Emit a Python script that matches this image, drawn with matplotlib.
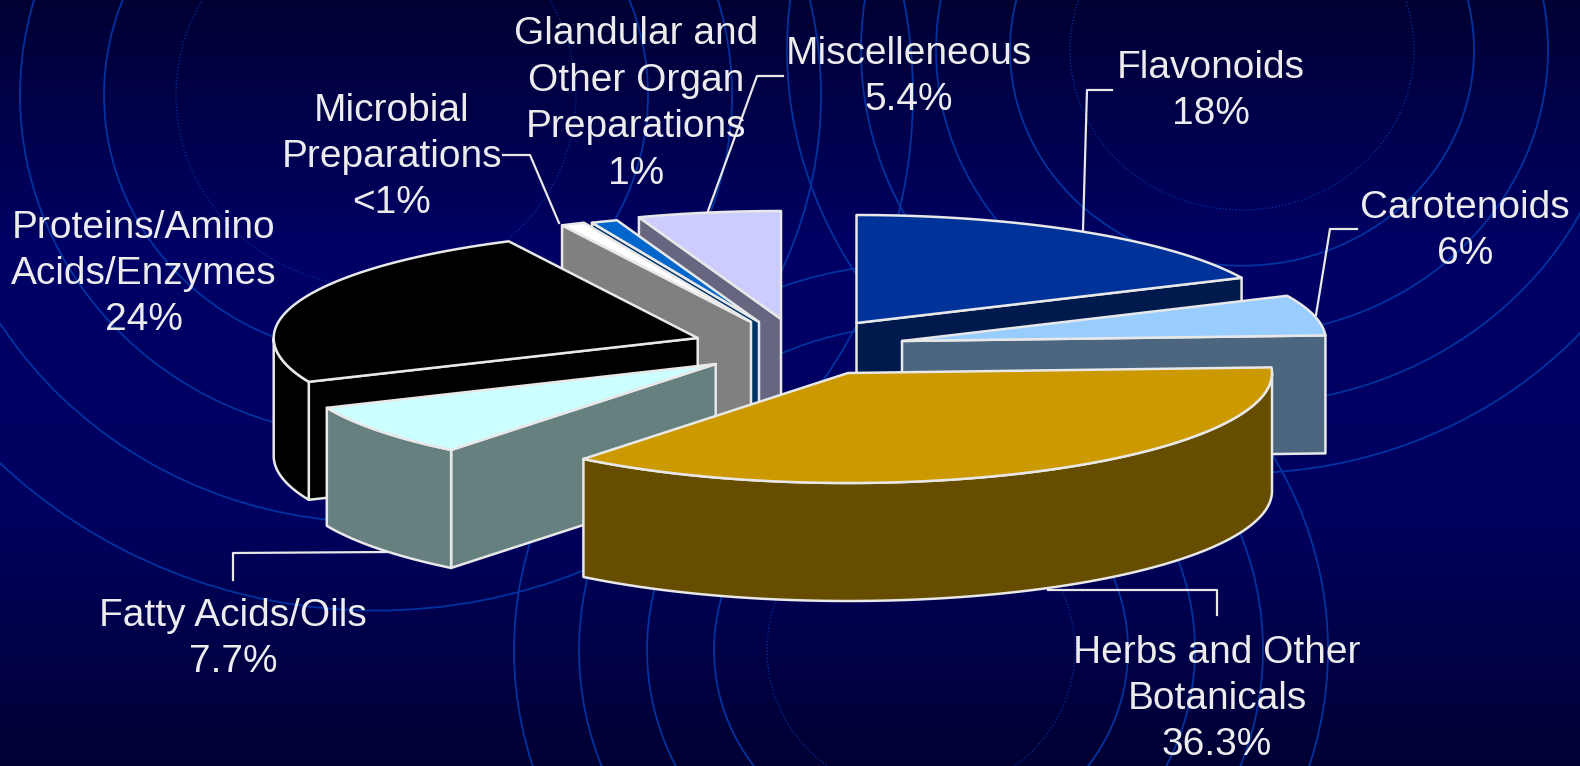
import numpy as np
import matplotlib.pyplot as plt
from matplotlib.colors import LinearSegmentedColormap
from matplotlib.patches import Ellipse, Polygon

plt.rcParams['font.family'] = ['Liberation Sans', 'DejaVu Sans']

# Data, clockwise from 12 o'clock
names = ["Flavonoids", "Carotenoids", "Herbs", "Fatty", "Proteins", "Microbial", "Glandular", "Misc"]
values = [18, 6, 36.3, 7.7, 24, 0.9, 1, 5.4]
labels = ["Flavonoids\n18%", "Carotenoids\n6%", "Herbs and Other\nBotanicals\n36.3%",
          "Fatty Acids/Oils\n7.7%", "Proteins/Amino\nAcids/Enzymes\n24%",
          "Microbial\nPreparations\n<1%", "Glandular and\nOther Organ\nPreparations\n1%",
          "Miscelleneous\n5.4%"]

# Colours
top_colors = ["#003399", "#99ccff", "#cc9900", "#ccffff", "#000000", "#ffffff", "#0066cc", "#ccccff"]
side_colors = ["#001a4d", "#4d6680", "#664d00", "#668080", "#000000", "#808080", "#003366", "#666680"]
edge = "#e8e8e8"
ring_color = "#0033a0"

# Layout in pixels: exploded slice apex, label centre, leader lines
apex = [(856.5, 323), (902, 341), (848, 373), (715.7, 364), (697.7, 338), (751, 322), (759, 322), (781, 319)]
label_xy = [(1211, 91), (1465, 231), (1217, 699), (233, 639), (144, 274), (392, 157), (636, 104), (909, 77)]
leaders = [[(1112, 90), (1087, 90), (1083, 230)],
           [(1357, 229), (1330, 229), (1316, 315)],
           [(1217, 615), (1217, 590), (1048, 590)],
           [(233, 580), (233, 553), (388, 552)],
           [(503, 155), (530, 155), (559, 223)],
           [(783, 76), (757, 76), (708, 211)]]
draw_order = [0, 7, 6, 5, 4, 1, 3, 2]
rx, ry_back, ry_front, depth = 424, 108, 110, 118

fig = plt.figure(figsize=(15.8, 7.66), dpi=100)
ax = fig.add_axes([0, 0, 1, 1])
ax.set_xlim(0, 1580)
ax.set_ylim(766, 0)
ax.axis("off")

# background
cmap = LinearSegmentedColormap.from_list("bg", ["#000033", "#000066", "#000060", "#000033"])
ax.imshow(np.linspace(0, 1, 256)[:, None], cmap=cmap, extent=[0, 1580, 766, 0], aspect="auto", zorder=0)

# concentric rings
ring_sets = [((376, 95), 0.96, [200, 272, 356, 445, 537]),
             ((1242, 50), 0.93, [172, 232, 306, 381, 455]),
             ((921, 650), 0.95, [154, 207, 274, 342, 407])]
for c, ratio, radii in ring_sets:
    for i, r in enumerate(radii):
        ax.add_patch(Ellipse(c, 2 * r, 2 * r * ratio, fill=False, ec=ring_color,
                             lw=0.9 if i == 0 else 1.3, ls=":" if i == 0 else "-", zorder=1))

for pts in leaders:
    xs, ys = zip(*pts)
    ax.plot(xs, ys, color=edge, lw=1.6, zorder=2)

# slice boundaries from the values
sweep = 360 * np.array(values) / np.sum(values)
starts = 90 - np.concatenate([[0], np.cumsum(sweep)[:-1]])
ends = starts - sweep


def rim(c, t):
    t = np.radians(t)
    s = np.sin(t)
    return np.column_stack([c[0] + rx * np.cos(t), c[1] - np.where(s > 0, ry_back, ry_front) * s])


def face(pts, color, z):
    ax.add_patch(Polygon(pts, closed=True, fc=color, ec=edge, lw=1.8, joinstyle="round", zorder=z))


z = 3
for i in draw_order:
    c = apex[i]
    a, b = starts[i], ends[i]
    down = np.array([0, depth])

    # radial faces turned to the viewer
    if np.cos(np.radians(a)) < -1e-6:
        p = np.array([c, rim(c, [a])[0]])
        face(np.vstack([p, p[::-1] + down]), side_colors[i], z)
    if np.cos(np.radians(b)) > 1e-6:
        p = np.array([c, rim(c, [b])[0]])
        face(np.vstack([p, p[::-1] + down]), side_colors[i], z)

    # outer wall, front half only
    t = np.linspace(a, b, 300)
    t = t[np.sin(np.radians(t)) < 0]
    if len(t):
        p = rim(c, t)
        face(np.vstack([p, p[::-1] + down]), side_colors[i], z + 1)

    # top
    face(np.vstack([[c], rim(c, np.linspace(a, b, 300))]), top_colors[i], z + 2)
    z += 3

for (x, y), s in zip(label_xy, labels):
    ax.text(x, y, s, color="#ececec", fontsize=28, ha="center", va="center", linespacing=1.37, zorder=40)

fig.savefig("out.png", dpi=100)
